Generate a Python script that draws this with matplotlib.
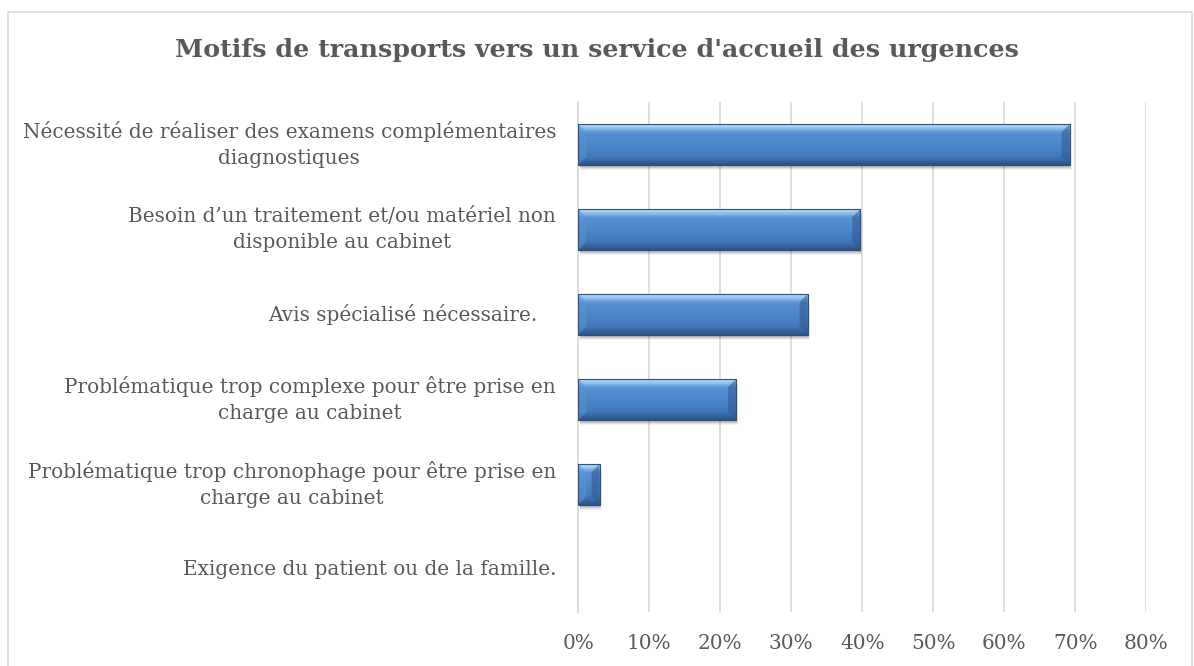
import numpy as np
import matplotlib
matplotlib.use("Agg")
import matplotlib.pyplot as plt
from matplotlib.patches import Rectangle, Polygon
from matplotlib.colors import LinearSegmentedColormap

# data
categories = [
    "Nécessité de réaliser des examens complémentaires\ndiagnostiques",
    "Besoin d’un traitement et/ou matériel non\ndisponible au cabinet",
    "Avis spécialisé nécessaire.   ",
    "Problématique trop complexe pour être prise en\ncharge au cabinet",
    "Problématique trop chronophage pour être prise en\ncharge au cabinet",
    "Exigence du patient ou de la famille.",
]
values = [69.2, 39.7, 32.3, 22.2, 3.0, 0.0]
xticks = [0, 10, 20, 30, 40, 50, 60, 70, 80]
xticklabels = ["0%", "10%", "20%", "30%", "40%", "50%", "60%", "70%", "80%"]
title = "Motifs de transports vers un service d'accueil des urgences"

text_color = "#595959"
grid_color = "#D9D9D9"
font = "DejaVu Serif"

W, H = 1194, 666
fig = plt.figure(figsize=(W / 100, H / 100), dpi=100)
ax = fig.add_axes([578.3 / W, (H - 612) / H, 568 / W, 510 / H])

# chart border
fig.patches.append(Rectangle((8 / W, -0.05), (1192 - 8) / W, (H - 12) / H + 0.05,
                             transform=fig.transFigure, fill=False,
                             edgecolor=grid_color, linewidth=1.2))

y = np.arange(len(categories))
bar_h = 0.48
bars = ax.barh(y, values, height=bar_h, color="#4A84C8", linewidth=0, zorder=3)

ax.set_xlim(0, 80)
ax.set_ylim(len(categories) - 0.5, -0.5)

# bevel styling for each bar
grad = LinearSegmentedColormap.from_list("bevel", [
    (0.0, "#B7DCFA"), (0.08, "#98C6F0"), (0.17, "#6A9FDC"), (0.22, "#5890D2"),
    (0.55, "#4A84C8"), (0.80, "#4378BA"), (0.88, "#3A69A6"), (1.0, "#2D5386"),
])
img = np.linspace(0, 1, 64).reshape(-1, 1)

px_x = 80 / 568  # data units per pixel
px_y = 6 / 510
for b in bars:
    x0, yc, w, h = b.get_x(), b.get_y(), b.get_width(), b.get_height()
    if w <= 0:
        continue
    top, bot = yc, yc + h
    # soft shadow
    for k, a in [(5, 0.05), (4, 0.07), (3, 0.09), (2, 0.1)]:
        ax.add_patch(Rectangle((x0 + k * px_x * 0.4, top + k * px_y), w, h,
                               facecolor="#000000", alpha=a, linewidth=0, zorder=2))
    im = ax.imshow(img, cmap=grad, aspect="auto", extent=(x0, x0 + w, bot, top),
                   zorder=3.5, interpolation="bilinear")
    im.set_clip_path(b)
    d = min(8 * px_x, w / 2)
    dy = 8 * px_y
    # left and right bevel faces
    ax.add_patch(Polygon([(x0, top), (x0 + d, top + dy), (x0 + d, bot - dy), (x0, bot)],
                         closed=True, facecolor="#5B93D4", alpha=0.55, linewidth=0, zorder=3.6))
    ax.add_patch(Polygon([(x0 + w, top), (x0 + w - d, top + dy), (x0 + w - d, bot - dy),
                          (x0 + w, bot)],
                         closed=True, facecolor="#2F5A92", alpha=0.55, linewidth=0, zorder=3.6))
    ax.add_patch(Rectangle((x0, top), w, h, fill=False, edgecolor="#2B4F7E",
                           linewidth=0.8, zorder=3.7))

ax.set_yticks(y)
ax.set_yticklabels(categories, fontfamily=font, fontsize=14.4, color=text_color)
for t in ax.get_yticklabels():
    t.set_multialignment("center")
    t.set_linespacing(1.46)
    t.set_verticalalignment("center")
ax.set_xticks(xticks)
ax.set_xticklabels(xticklabels, fontfamily=font, fontsize=14.4, color=text_color)
ax.tick_params(axis="y", length=0, pad=16)
ax.tick_params(axis="x", length=0, pad=16)

ax.grid(axis="x", color=grid_color, linewidth=1.2, zorder=0)
ax.set_axisbelow(True)
for s in ["top", "right", "bottom"]:
    ax.spines[s].set_visible(False)
ax.spines["left"].set_color(grid_color)
ax.spines["left"].set_linewidth(1.2)

fig.text(597 / W, (H - 50) / H, title, ha="center", va="center", fontfamily=font,
         fontweight="bold", fontsize=18.3, color=text_color)

fig.savefig("out.png", dpi=100)
